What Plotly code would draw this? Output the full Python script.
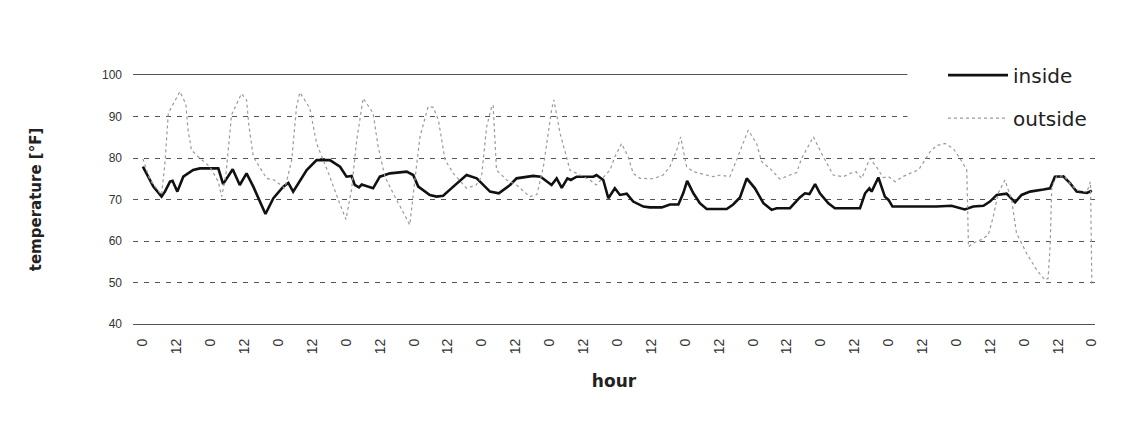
import plotly.graph_objects as go

# ---- data ----
inside_hours = [0, 3.7, 6.6, 7.8, 9.6, 10.5, 12.2, 14.3, 17.8, 20.2, 26.7, 28.4, 31.8, 34.3, 36.7, 39.1,
                43.4, 46.2, 49.7, 51.5, 53.2, 55.0, 58.0, 61.5, 66.2, 69.8, 72.1, 73.9, 75.0, 76.5, 77.5,
                78.0, 81.5, 83.9, 87.5, 93.4, 95.7, 97.5, 101.6, 104.0, 106.3, 109.9, 113.4, 114.6, 118.2,
                122.9, 126.0, 130.0, 132.3, 138.2, 140.8, 144.7, 146.5, 148.3, 150.3, 151.5, 153.6, 159.5,
                160.6, 163.0, 164.8, 167.1, 168.9, 171.3, 173.6, 177.2, 179.5, 183.7, 186.6, 189.6, 191.3,
                192.7, 194.9, 197.2, 199.6, 206.7, 209.0, 211.4, 213.8, 216.7, 219.7, 222.6, 224.4, 229.1,
                232.6, 234.4, 236.0, 238.0, 239.7, 242.7, 245.0, 253.9, 255.7, 257.2, 258.0, 260.4, 262.7,
                264.0, 265.4, 281.0, 286.3, 291.0, 294.0, 297.6, 299.9, 302.3, 305.8, 308.8, 311.1, 314.1,
                318.8, 321.2, 322.9, 325.9, 328.3, 330.6, 334.2, 336.0]
inside_temp = [77.9, 73.1, 70.7, 71.9, 74.3, 74.5, 71.9, 75.5, 77.1, 77.5, 77.5, 73.7, 77.3, 73.5, 76.3, 73.1,
               66.5, 70.3, 73.1, 74.0, 71.9, 73.9, 77.1, 79.5, 79.5, 77.9, 75.5, 75.7, 73.5, 72.9, 73.6,
               73.5, 72.7, 75.5, 76.3, 76.7, 75.9, 73.1, 71.1, 70.7, 70.9, 73.1, 75.1, 75.9, 75.1,
               71.9, 71.5, 73.5, 75.1, 75.7, 75.5, 73.5, 75.1, 72.8, 75.1, 74.7, 75.5, 75.5,
               75.9, 74.7, 70.3, 72.7, 71.1, 71.4, 69.5, 68.3, 68.1, 68.1, 68.8, 68.8, 71.5,
               74.5, 71.5, 69.1, 67.7, 67.7, 68.8, 70.5, 75.1, 72.7, 69.1, 67.5, 67.9, 67.9,
               70.5, 71.5, 71.3, 73.7, 71.5, 69.1, 67.9, 67.9, 71.5, 72.7, 71.9, 75.3, 70.7,
               69.9, 68.3, 68.3, 68.5, 67.6, 68.3, 68.5, 69.5, 71.1, 71.4, 69.3, 71.1, 71.9,
               72.4, 72.7, 75.5, 75.6, 73.9, 71.9, 71.6, 72.1]

outside_hours = [0, 2.5, 6.6, 7.8, 9.0, 13.1, 15.2, 16.0, 17.2, 19.6, 23.7, 26.7, 27.9, 29.4, 31.4, 34.9,
                 36.7, 37.5, 39.1, 43.8, 46.5, 50.3, 52.7, 54.4, 55.6, 59.1, 61.5, 66.2, 69.2, 71.9, 73.9,
                 75.7, 78.0, 81.5, 83.3, 85.7, 88.6, 91.0, 94.5, 96.3, 98.1, 101.0, 102.8, 104.6, 107.0,
                 109.9, 114.6, 118.0, 119.9, 121.7, 123.5, 124.0, 125.2, 128.8, 132.3, 137.0, 139.5, 141.8,
                 143.0, 144.7, 145.5, 147.7, 151.2, 158.3, 160.5, 163.6, 165.4, 167.1, 169.5, 171.8, 173.6,
                 176.0, 180.7, 184.2, 186.6, 189.0, 190.4, 192.5, 194.9, 199.6, 202.0, 204.5, 207.8, 210.2,
                 212.6, 214.3, 217.3, 219.1, 222.0, 225.6, 229.1, 231.5, 233.2, 237.4, 240.3, 244.4, 248.0,
                 250.4, 252.5, 254.5, 257.4, 259.7, 262.1, 264.0, 266.3, 269.0, 271.6, 274.6, 276.9, 278.7,
                 281.0, 284.0, 286.9, 289.3, 291.7, 292.3, 294.0, 296.4, 299.3, 301.1, 302.8, 305.2, 307.6,
                 309.3, 312.9, 316.5, 319.4, 320.5, 321.2, 321.8, 323.5, 326.0, 328.3, 330.6, 334.2, 335.5,
                 336.0]
outside_temp = [79.8, 74.7, 71.1, 78.7, 90.8, 96.0, 93.0, 86.7, 81.9, 80.3, 77.9, 74.3, 70.7, 76.0, 90.4, 95.5,
                94.0, 88.0, 80.3, 75.1, 74.7, 72.7, 79.5, 92.4, 95.8, 92.0, 83.5, 75.5, 69.9, 65.2, 72.5,
                84.3, 94.4, 90.8, 82.7, 75.5, 71.5, 68.3, 63.9, 74.7, 85.1, 92.4, 92.2, 89.2, 79.5,
                76.3, 72.7, 73.5, 75.5, 87.5, 92.4, 92.8, 77.1, 74.7, 73.5, 70.7, 71.2, 77.9,
                83.5, 91.6, 94.0, 86.0, 77.1, 74.7, 73.5, 75.9, 77.1, 80.3, 83.5, 80.3, 76.3,
                75.1, 75.0, 75.9, 77.9, 81.9, 85.1, 77.9, 76.7, 75.9, 75.5, 75.9, 75.5, 79.5,
                83.5, 86.7, 83.5, 79.1, 77.5, 74.9, 75.9, 76.5, 79.9, 85.1, 81.1, 75.9, 75.5,
                76.3, 76.7, 75.1, 79.9, 77.9, 75.3, 75.5, 74.3, 75.5, 76.3, 77.1, 79.5, 81.5,
                83.0, 83.5, 82.3, 79.9, 77.1, 58.6, 59.5, 60.2, 61.4, 65.9, 71.5, 74.7, 69.9,
                61.9, 57.0, 53.0, 50.6, 51.0, 58.6, 73.1, 75.5, 75.8, 73.8, 72.3, 71.8, 74.3,
                49.0]

tick_hours = list(range(0, 337, 12))
tick_labels = ["0" if h % 24 == 0 else "12" for h in tick_hours]
y_ticks = [40, 50, 60, 70, 80, 90, 100]

fig = go.Figure()
fig.add_trace(go.Scatter(x=inside_hours, y=inside_temp, mode="lines", name="inside",
                         legendgroup="a",
                         line=dict(color="#111111", width=2.6)))
fig.add_trace(go.Scatter(x=outside_hours, y=outside_temp, mode="lines", name="outside",
                         legendgroup="b",
                         line=dict(color="#9a9a9a", width=1.2, dash="dot")))

arial = "Liberation Sans, Arial, sans-serif"
wide = "DejaVu Sans, Verdana, sans-serif"

# white panel behind the legend (hides grid lines there, as in the original)
fig.add_shape(type="rect", xref="paper", yref="paper", x0=0.805, x1=1.07, y0=0.76, y1=1.12,
              fillcolor="white", line=dict(width=0), layer="above")

fig.update_layout(
    width=1132, height=407,
    margin=dict(l=125, r=45, t=67, b=91),
    paper_bgcolor="white", plot_bgcolor="white",
    font=dict(family=arial, color="#222222"),
    showlegend=True,
    legend=dict(x=0.842, y=1.078, xanchor="left", yanchor="top",
                bgcolor="rgba(0,0,0,0)", borderwidth=0,
                font=dict(size=20, family=wide, color="#222222"),
                tracegroupgap=14, itemwidth=60),
    xaxis=dict(range=[-3.5, 337.1], tickmode="array", tickvals=tick_hours, ticktext=tick_labels,
               tickangle=-90, tickfont=dict(size=14, color="#333333"),
               showgrid=False, zeroline=False, automargin=False,
               showline=True, mirror=True, linecolor="#555555", linewidth=1,
               ticks="", ticklabelstandoff=8,
               title=dict(text="<b>hour</b>", font=dict(size=17, family=wide, color="#222222"),
                          standoff=21)),
    yaxis=dict(range=[40, 100], tickmode="array", tickvals=y_ticks,
               tickfont=dict(size=12, color="#333333"), automargin=False,
               showgrid=True, gridcolor="#555555", griddash="5px,6px", gridwidth=1,
               zeroline=False, showline=False, ticks="", ticklabelstandoff=10,
               title=dict(text="<b>temperature [°F]</b>", font=dict(size=15, family=wide, color="#222222"),
                          standoff=56)),
)

fig.write_html("out.html")
